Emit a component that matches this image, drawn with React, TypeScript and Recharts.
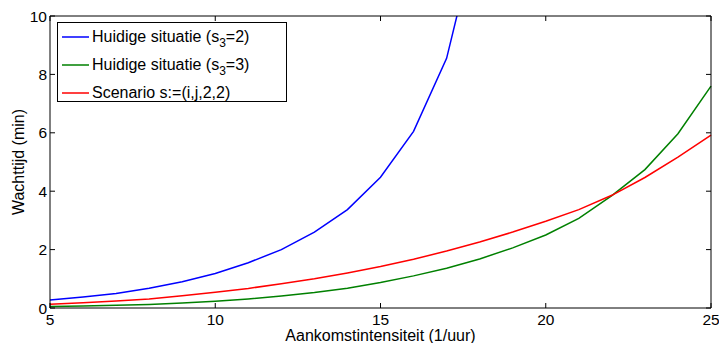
import React from 'react';
import { LineChart, Line, XAxis, YAxis, Legend } from 'recharts';

const arrivalRates = [5, 6, 7, 8, 9, 10, 11, 12, 13, 14, 15, 16, 17, 18, 19, 20, 21, 22, 23, 24, 25];
const currentS2 = [0.27, 0.38, 0.5, 0.68, 0.9, 1.18, 1.55, 2.0, 2.6, 3.37, 4.48, 6.05, 8.55, 13.2, null, null, null, null, null, null, null];
const currentS3 = [0.05, 0.07, 0.09, 0.12, 0.17, 0.23, 0.31, 0.41, 0.53, 0.68, 0.87, 1.1, 1.36, 1.68, 2.06, 2.5, 3.07, 3.85, 4.74, 5.97, 7.6];
const scenario = [0.13, 0.18, 0.24, 0.31, 0.42, 0.54, 0.67, 0.83, 1.0, 1.2, 1.42, 1.67, 1.95, 2.26, 2.6, 2.97, 3.37, 3.86, 4.47, 5.17, 5.92];

const xTicks = [5, 10, 15, 20, 25];
const yTicks = [0, 2, 4, 6, 8, 10];

const seriesNames = ['Huidige situatie (s3=2)', 'Huidige situatie (s3=3)', 'Scenario s:=(i,j,2,2)'];

const data = arrivalRates.map((x, i) => ({
  x,
  s2: currentS2[i],
  s3: currentS3[i],
  sc: scenario[i],
}));

const FONT = '"Liberation Sans", Arial, Helvetica, sans-serif';
const tickStyle = { fontSize: 15.5, fill: '#000', fontFamily: FONT };

const subStyle: React.CSSProperties = { fontSize: 12, position: 'relative', top: 5, lineHeight: 0 };

const legendItems = [
  { color: '#0000ff', label: <>Huidige situatie (s<span style={subStyle}>3</span>=2)</> },
  { color: '#008000', label: <>Huidige situatie (s<span style={subStyle}>3</span>=3)</> },
  { color: '#ff0000', label: <>Scenario s:=(i,j,2,2)</> },
];

const LegendBox = () => (
  <div
    style={{
      width: 228,
      height: 78,
      border: '1px solid #000',
      background: '#fff',
      fontFamily: FONT,
      fontSize: 16,
      color: '#000',
      position: 'relative',
    }}
  >
    {legendItems.map((it, i) => (
      <div
        key={i}
        style={{ position: 'absolute', left: 4, top: 3 + i * 28, height: 22, display: 'flex', alignItems: 'center', whiteSpace: 'nowrap' }}
      >
        <svg width={27} height={4} style={{ marginRight: 3 }}>
          <line x1={0} y1={2} x2={27} y2={2} stroke={it.color} strokeWidth={1.5} />
        </svg>
        <span style={{ lineHeight: '16px' }}>{it.label}</span>
      </div>
    ))}
  </div>
);

export default function App() {
  return (
    <div style={{ position: 'absolute', left: 0, top: 0, width: 719, height: 343, background: '#fff' }}>
      <LineChart width={719} height={343} data={data} margin={{ top: 0, right: 0, bottom: 0, left: 0 }}>
        <XAxis
          xAxisId="b"
          dataKey="x"
          type="number"
          domain={[5, 25]}
          ticks={xTicks}
          orientation="bottom"
          height={35}
          stroke="#000"
          tickSize={-5}
          tickMargin={11}
          tick={tickStyle}
          interval={0}
          label={{ value: 'Aankomstintensiteit (1/uur)', position: 'insideBottom', offset: 2, style: { fontSize: 16, fill: '#000', fontFamily: FONT } }}
        />
        <XAxis
          xAxisId="t"
          dataKey="x"
          type="number"
          domain={[5, 25]}
          ticks={xTicks}
          orientation="top"
          height={16}
          stroke="#000"
          tickSize={-5}
          tickMargin={0}
          tickFormatter={() => ''}
          interval={0}
        />
        <YAxis
          yAxisId="l"
          type="number"
          domain={[0, 10]}
          ticks={yTicks}
          allowDataOverflow
          orientation="left"
          width={50}
          stroke="#000"
          tickSize={-5}
          tickMargin={8}
          tick={tickStyle}
          interval={0}
          label={{ value: 'Wachttijd (min)', angle: -90, position: 'insideLeft', offset: 18, style: { fontSize: 16, fill: '#000', fontFamily: FONT, textAnchor: 'middle' } }}
        />
        <YAxis
          yAxisId="r"
          type="number"
          domain={[0, 10]}
          ticks={yTicks}
          allowDataOverflow
          orientation="right"
          width={8}
          stroke="#000"
          tickSize={-5}
          tickMargin={0}
          tickFormatter={() => ''}
          interval={0}
        />
        <Legend
          layout="horizontal"
          verticalAlign="middle"
          align="center"
          content={() => <LegendBox />}
          wrapperStyle={{ position: 'absolute', left: 57, top: 22, width: 230, height: 80 }}
        />
        <Line xAxisId="b" yAxisId="l" dataKey="s2" name={seriesNames[0]} stroke="#0000ff" strokeWidth={1.5} dot={false} isAnimationActive={false} type="linear" />
        <Line xAxisId="b" yAxisId="l" dataKey="s3" name={seriesNames[1]} stroke="#008000" strokeWidth={1.5} dot={false} isAnimationActive={false} type="linear" />
        <Line xAxisId="b" yAxisId="l" dataKey="sc" name={seriesNames[2]} stroke="#ff0000" strokeWidth={1.5} dot={false} isAnimationActive={false} type="linear" />
      </LineChart>
    </div>
  );
}
